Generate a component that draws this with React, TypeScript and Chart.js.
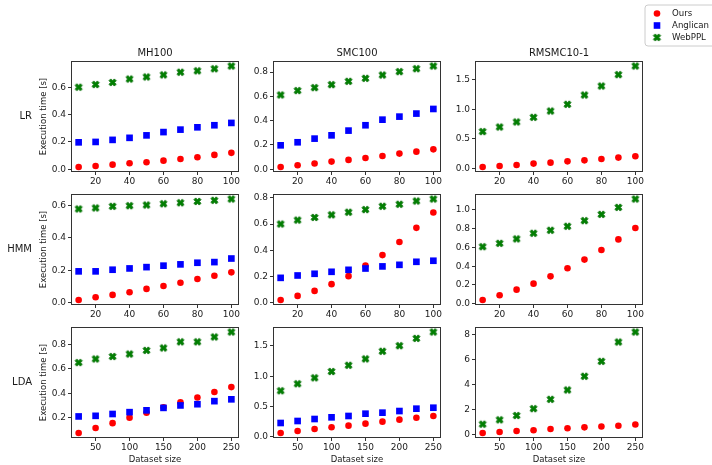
import React, { useEffect, useRef } from 'react';
import { Chart, registerables } from 'chart.js';
Chart.register(...registerables);

const FONT = "'DejaVu Sans', 'Liberation Sans', sans-serif";

// ---- categories ----
const sizesSmall = [10, 20, 30, 40, 50, 60, 70, 80, 90, 100];
const sizesLDA = [25, 50, 75, 100, 125, 150, 175, 200, 225, 250];
const methodTitles = ['MH100', 'SMC100', 'RMSMC10-1'];
const modelLabels = ['LR', 'HMM', 'LDA'];
const legendLabels = ['Ours', 'Anglican', 'WebPPL'];
const xLabel = 'Dataset size';
const yLabel = 'Execution time [s]';

// ---- LR ----
const lrMhOurs = [0.017, 0.024, 0.034, 0.044, 0.051, 0.063, 0.075, 0.088, 0.105, 0.12];
const lrMhAnglican = [0.197, 0.2, 0.215, 0.23, 0.248, 0.272, 0.29, 0.307, 0.322, 0.339];
const lrMhWebppl = [0.6, 0.62, 0.635, 0.66, 0.675, 0.69, 0.71, 0.72, 0.735, 0.755];
const lrSmcOurs = [0.019, 0.033, 0.047, 0.063, 0.077, 0.093, 0.109, 0.129, 0.145, 0.164];
const lrSmcAnglican = [0.197, 0.222, 0.252, 0.279, 0.318, 0.362, 0.408, 0.433, 0.458, 0.496];
const lrSmcWebppl = [0.611, 0.647, 0.671, 0.696, 0.723, 0.748, 0.775, 0.803, 0.827, 0.849];
const lrRmOurs = [0.023, 0.039, 0.056, 0.08, 0.096, 0.118, 0.135, 0.157, 0.181, 0.203];
const lrRmWebppl = [0.621, 0.699, 0.784, 0.863, 0.97, 1.083, 1.24, 1.393, 1.585, 1.731];

// ---- HMM ----
const hmmMhOurs = [0.018, 0.035, 0.049, 0.065, 0.086, 0.104, 0.124, 0.147, 0.167, 0.188];
const hmmMhAnglican = [0.194, 0.194, 0.204, 0.212, 0.22, 0.229, 0.237, 0.247, 0.251, 0.273];
const hmmMhWebppl = [0.578, 0.584, 0.594, 0.598, 0.602, 0.61, 0.616, 0.624, 0.631, 0.639];
const hmmSmcOurs = [0.023, 0.054, 0.092, 0.143, 0.204, 0.285, 0.364, 0.464, 0.571, 0.688];
const hmmSmcAnglican = [0.191, 0.209, 0.222, 0.237, 0.252, 0.262, 0.278, 0.29, 0.313, 0.321];
const hmmSmcWebppl = [0.6, 0.63, 0.65, 0.67, 0.69, 0.71, 0.735, 0.75, 0.775, 0.79];
const hmmRmOurs = [0.039, 0.089, 0.149, 0.213, 0.291, 0.377, 0.47, 0.573, 0.686, 0.808];
const hmmRmWebppl = [0.608, 0.644, 0.691, 0.751, 0.783, 0.826, 0.886, 0.953, 1.028, 1.117];

// ---- LDA ----
const ldaMhOurs = [0.075, 0.115, 0.155, 0.2, 0.24, 0.285, 0.325, 0.365, 0.41, 0.45];
const ldaMhAnglican = [0.21, 0.215, 0.23, 0.245, 0.26, 0.28, 0.3, 0.31, 0.335, 0.35];
const ldaMhWebppl = [0.65, 0.68, 0.7, 0.72, 0.75, 0.77, 0.82, 0.82, 0.86, 0.9];
const ldaSmcOurs = [0.06, 0.093, 0.126, 0.154, 0.181, 0.214, 0.247, 0.28, 0.313, 0.341];
const ldaSmcAnglican = [0.225, 0.258, 0.291, 0.319, 0.341, 0.379, 0.396, 0.423, 0.462, 0.478];
const ldaSmcWebppl = [0.758, 0.874, 0.973, 1.077, 1.181, 1.286, 1.412, 1.505, 1.626, 1.731];
const ldaRmOurs = [0.1, 0.18, 0.26, 0.32, 0.42, 0.48, 0.55, 0.62, 0.68, 0.78];
const ldaRmWebppl = [0.8, 1.15, 1.5, 2.05, 2.8, 3.55, 4.65, 5.85, 7.4, 8.2];

// ---- tick labels ----
const xTicksSmall = [20, 40, 60, 80, 100];
const xTicksLDA = [50, 100, 150, 200, 250];
const yTicksLrMh = [0, 0.2, 0.4, 0.6];
const yTicksLrSmc = [0, 0.2, 0.4, 0.6, 0.8];
const yTicksLrRm = [0, 0.5, 1.0, 1.5];
const yTicksHmmMh = [0, 0.2, 0.4, 0.6];
const yTicksHmmSmc = [0, 0.2, 0.4, 0.6, 0.8];
const yTicksHmmRm = [0, 0.2, 0.4, 0.6, 0.8, 1.0];
const yTicksLdaMh = [0.2, 0.4, 0.6, 0.8];
const yTicksLdaSmc = [0, 0.5, 1.0, 1.5];
const yTicksLdaRm = [0, 2, 4, 6, 8];

type PanelDef = {
  x: number[];
  xTicks: number[];
  ours: number[];
  anglican: number[] | null;
  webppl: number[];
  yTicks: number[];
  yDec: number;
};

const panels: PanelDef[][] = [
  [
    { x: sizesSmall, xTicks: xTicksSmall, ours: lrMhOurs, anglican: lrMhAnglican, webppl: lrMhWebppl, yTicks: yTicksLrMh, yDec: 1 },
    { x: sizesSmall, xTicks: xTicksSmall, ours: lrSmcOurs, anglican: lrSmcAnglican, webppl: lrSmcWebppl, yTicks: yTicksLrSmc, yDec: 1 },
    { x: sizesSmall, xTicks: xTicksSmall, ours: lrRmOurs, anglican: null, webppl: lrRmWebppl, yTicks: yTicksLrRm, yDec: 1 },
  ],
  [
    { x: sizesSmall, xTicks: xTicksSmall, ours: hmmMhOurs, anglican: hmmMhAnglican, webppl: hmmMhWebppl, yTicks: yTicksHmmMh, yDec: 1 },
    { x: sizesSmall, xTicks: xTicksSmall, ours: hmmSmcOurs, anglican: hmmSmcAnglican, webppl: hmmSmcWebppl, yTicks: yTicksHmmSmc, yDec: 1 },
    { x: sizesSmall, xTicks: xTicksSmall, ours: hmmRmOurs, anglican: null, webppl: hmmRmWebppl, yTicks: yTicksHmmRm, yDec: 1 },
  ],
  [
    { x: sizesLDA, xTicks: xTicksLDA, ours: ldaMhOurs, anglican: ldaMhAnglican, webppl: ldaMhWebppl, yTicks: yTicksLdaMh, yDec: 1 },
    { x: sizesLDA, xTicks: xTicksLDA, ours: ldaSmcOurs, anglican: ldaSmcAnglican, webppl: ldaSmcWebppl, yTicks: yTicksLdaSmc, yDec: 1 },
    { x: sizesLDA, xTicks: xTicksLDA, ours: ldaRmOurs, anglican: null, webppl: ldaRmWebppl, yTicks: yTicksLdaRm, yDec: 0 },
  ],
];

// ---- layout ----
const PLOT_W = 168;
const PLOT_H = 111;
const colCanvasLeft = [0, 240, 442];
const colPadL = [71, 33, 33];
const colPadR = [17, 17, 69];
const rowCanvasTop = [0, 175, 306];
const rowPadT = [61, 19, 21];
const rowPadB = [28, 28, 27];

const RED = '#ff0000';
const BLUE = '#0000ff';
const GREEN = '#008000';
const TEXT = '#1a1a1a';
const SPINE = '#333333';

function makeXMarker(size: number): HTMLCanvasElement {
  const c = document.createElement('canvas');
  const dim = Math.ceil(size + 3);
  c.width = dim;
  c.height = dim;
  const g = c.getContext('2d')!;
  g.translate(dim / 2, dim / 2);
  g.rotate(Math.PI / 4);
  const s = size / 6;
  const pts = [
    [-1, -3], [1, -3], [1, -1], [3, -1], [3, 1], [1, 1],
    [1, 3], [-1, 3], [-1, 1], [-3, 1], [-3, -1], [-1, -1],
  ];
  g.beginPath();
  pts.forEach(([px, py], i) => {
    if (i === 0) g.moveTo(px * s, py * s);
    else g.lineTo(px * s, py * s);
  });
  g.closePath();
  g.fillStyle = GREEN;
  g.fill();
  g.strokeStyle = '#006a00';
  g.lineWidth = 0.8;
  g.stroke();
  return c;
}

function drawSquare(ctx: CanvasRenderingContext2D, x: number, y: number, side: number) {
  ctx.fillStyle = BLUE;
  ctx.fillRect(x - side / 2, y - side / 2, side, side);
}

function Panel({ row, col }: { row: number; col: number }) {
  const ref = useRef<HTMLCanvasElement>(null);
  const p = panels[row][col];
  const W = colPadL[col] + PLOT_W + colPadR[col];
  const H = rowPadT[row] + PLOT_H + rowPadB[row];
  const cl = colCanvasLeft[col];
  const ct = rowCanvasTop[row];

  useEffect(() => {
    const canvas = ref.current!;
    const xMarker = makeXMarker(7.6);
    const toPts = (ys: number[]) => ys.map((y, i) => ({ x: p.x[i], y }));

    const allY = [...p.ours, ...(p.anglican || []), ...p.webppl];
    const yLo = Math.min(...allY);
    const yHi = Math.max(...allY);
    const yPad = (yHi - yLo) * 0.05;
    const xLo = Math.min(...p.x);
    const xHi = Math.max(...p.x);
    const xPad = (xHi - xLo) * 0.05;

    const datasets: any[] = [];
    datasets.push({
      label: legendLabels[0],
      data: toPts(p.ours),
      pointStyle: 'circle',
      pointRadius: 3.3,
      backgroundColor: RED,
      borderColor: RED,
      borderWidth: 0,
      order: 3,
    });
    if (p.anglican) {
      datasets.push({
        label: legendLabels[1],
        data: toPts(p.anglican),
        pointStyle: 'rect',
        pointRadius: 4.7,
        backgroundColor: BLUE,
        borderColor: BLUE,
        borderWidth: 0,
        order: 2,
      });
    }
    datasets.push({
      label: legendLabels[2],
      data: toPts(p.webppl),
      pointStyle: xMarker,
      pointRadius: 4,
      backgroundColor: GREEN,
      borderColor: GREEN,
      order: 1,
    });

    const deco = {
      id: 'deco',
      afterDraw(chart: any) {
        const ctx: CanvasRenderingContext2D = chart.ctx;
        const a = chart.chartArea;
        ctx.save();
        // frame (spines)
        ctx.strokeStyle = SPINE;
        ctx.lineWidth = 1;
        ctx.strokeRect(a.left + 0.5, a.top + 0.5, a.right - a.left - 1, a.bottom - a.top - 1);

        ctx.translate(-cl, -ct);
        const L = a.left + cl, R = a.right + cl, T = a.top + ct, B = a.bottom + ct;
        const cx = (L + R) / 2, cy = (T + B) / 2;
        ctx.fillStyle = TEXT;
        if (row === 0) {
          ctx.font = `10px ${FONT}`;
          ctx.textAlign = 'center';
          ctx.textBaseline = 'middle';
          ctx.fillText(methodTitles[col], cx, T - 8);
        }
        if (col === 0) {
          ctx.font = `10px ${FONT}`;
          ctx.textAlign = 'right';
          ctx.textBaseline = 'middle';
          ctx.fillText(modelLabels[row], 32, cy);
          ctx.save();
          ctx.translate(44, cy);
          ctx.rotate(-Math.PI / 2);
          ctx.font = `8.5px ${FONT}`;
          ctx.textAlign = 'center';
          ctx.textBaseline = 'middle';
          ctx.fillText(yLabel, 0, 0);
          ctx.restore();
        }
        if (row === 2) {
          ctx.font = `8.5px ${FONT}`;
          ctx.textAlign = 'center';
          ctx.textBaseline = 'middle';
          ctx.fillText(xLabel, cx, B + 21.5);
        }
        if (row === 0 && col === 2) {
          // legend
          const lx = 645, ly = 5, lw = 75, lh = 41, r = 3;
          ctx.beginPath();
          ctx.moveTo(lx + r, ly);
          ctx.lineTo(lx + lw - r, ly);
          ctx.arcTo(lx + lw, ly, lx + lw, ly + r, r);
          ctx.lineTo(lx + lw, ly + lh - r);
          ctx.arcTo(lx + lw, ly + lh, lx + lw - r, ly + lh, r);
          ctx.lineTo(lx + r, ly + lh);
          ctx.arcTo(lx, ly + lh, lx, ly + lh - r, r);
          ctx.lineTo(lx, ly + r);
          ctx.arcTo(lx, ly, lx + r, ly, r);
          ctx.closePath();
          ctx.fillStyle = 'rgba(255,255,255,0.8)';
          ctx.fill();
          ctx.strokeStyle = '#cccccc';
          ctx.lineWidth = 1;
          ctx.stroke();
          const rowsY = [13.5, 25.5, 37.5];
          const mx = 657;
          ctx.fillStyle = RED;
          ctx.beginPath();
          ctx.arc(mx, rowsY[0], 3.3, 0, Math.PI * 2);
          ctx.fill();
          drawSquare(ctx, mx, rowsY[1], 6.6);
          ctx.drawImage(xMarker, mx - xMarker.width / 2, rowsY[2] - xMarker.height / 2);
          ctx.fillStyle = TEXT;
          ctx.font = `8.6px ${FONT}`;
          ctx.textAlign = 'left';
          ctx.textBaseline = 'middle';
          legendLabels.forEach((t, i) => ctx.fillText(t, 672, rowsY[i]));
        }
        ctx.restore();
      },
    };

    const chart = new Chart(canvas, {
      type: 'scatter',
      data: { datasets },
      options: {
        animation: false,
        responsive: false,
        maintainAspectRatio: false,
        devicePixelRatio: 1,
        events: [],
        layout: { padding: { left: 0, top: rowPadT[row], right: colPadR[col], bottom: 0 } },
        plugins: {
          legend: { display: false },
          tooltip: { enabled: false },
          title: { display: false },
        },
        scales: {
          x: {
            type: 'linear',
            min: xLo - xPad,
            max: xHi + xPad,
            afterBuildTicks: (scale: any) => {
              scale.ticks = p.xTicks.map((v) => ({ value: v }));
            },
            afterFit: (scale: any) => {
              scale.height = rowPadB[row];
            },
            ticks: {
              autoSkip: false,
              maxRotation: 0,
              padding: 1,
              color: TEXT,
              font: { family: FONT, size: 9 },
              callback: (v: any) => String(Math.round(Number(v))),
            },
            grid: { display: true, drawOnChartArea: false, drawTicks: true, tickLength: 3, color: SPINE },
            border: { display: false },
          },
          y: {
            type: 'linear',
            min: yLo - yPad,
            max: yHi + yPad,
            afterBuildTicks: (scale: any) => {
              scale.ticks = p.yTicks.map((v) => ({ value: v }));
            },
            afterFit: (scale: any) => {
              scale.width = colPadL[col];
            },
            ticks: {
              autoSkip: false,
              padding: 2,
              color: TEXT,
              font: { family: FONT, size: 9 },
              callback: (v: any) => Number(v).toFixed(p.yDec),
            },
            grid: { display: true, drawOnChartArea: false, drawTicks: true, tickLength: 3, color: SPINE },
            border: { display: false },
          },
        },
      },
      plugins: [deco],
    } as any);
    return () => chart.destroy();
  }, []);

  return (
    <canvas
      ref={ref}
      width={W}
      height={H}
      style={{ position: 'absolute', left: cl, top: ct, width: W, height: H }}
    />
  );
}

export default function App() {
  const cells: React.ReactElement[] = [];
  for (let r = 0; r < 3; r++) {
    for (let c = 0; c < 3; c++) {
      cells.push(<Panel key={`${r}-${c}`} row={r} col={c} />);
    }
  }
  return (
    <div style={{ position: 'absolute', left: 0, top: 0, width: 712, height: 465, background: '#fff', overflow: 'hidden' }}>
      {cells}
    </div>
  );
}
